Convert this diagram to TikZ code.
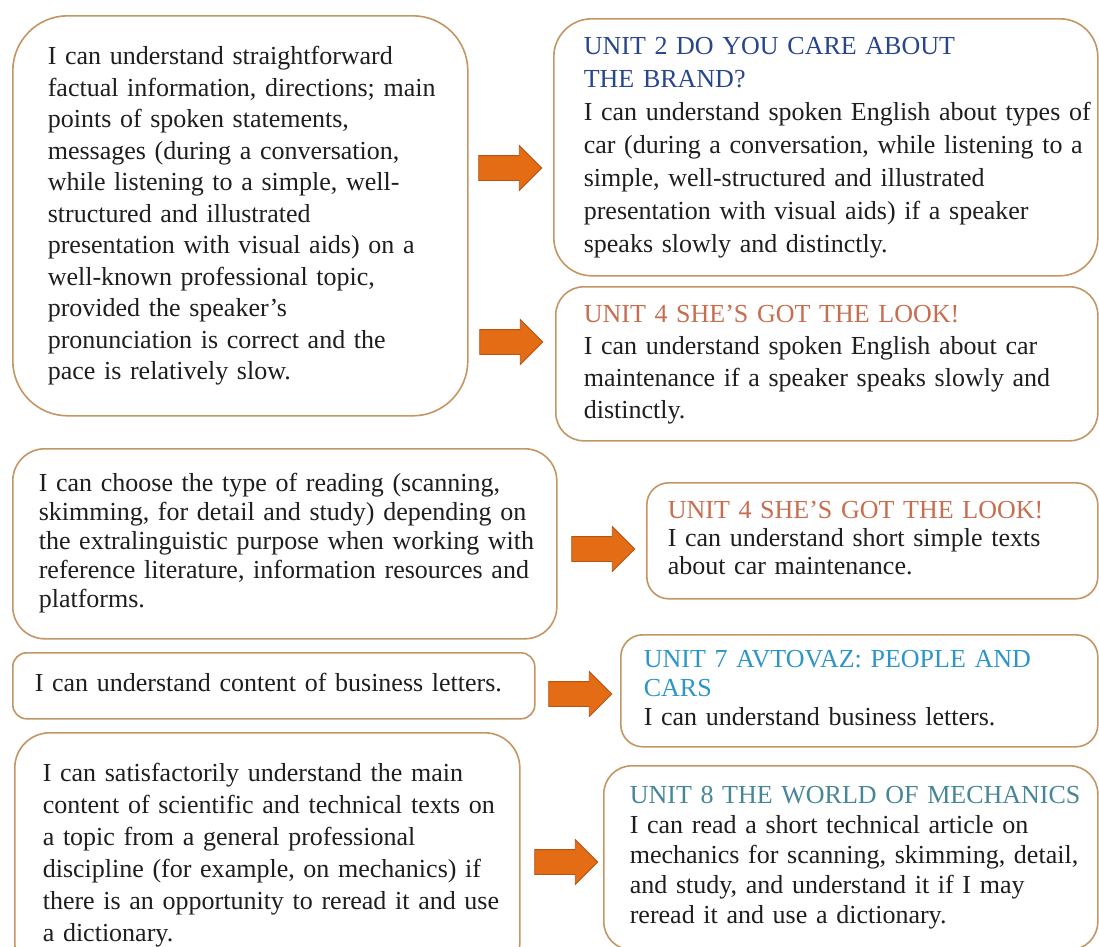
\documentclass[tikz,border=0pt]{standalone}
\usepackage{fontspec}
\setmainfont{Liberation Serif}
\usetikzlibrary{shapes.arrows}

\definecolor{boxline}{RGB}{196,150,100}
\definecolor{arrowfill}{RGB}{227,108,20}
\definecolor{arrowline}{RGB}{180,85,20}
\definecolor{bodytext}{RGB}{30,30,30}
\definecolor{unitblue}{RGB}{40,70,140}
\definecolor{unitorange}{RGB}{200,110,80}
\definecolor{unitsky}{RGB}{45,150,200}
\definecolor{unitteal}{RGB}{70,135,150}

% lines of a box, kept as typed (no wrapping)
\newcommand{\boxlines}[1]{\begin{tabular}{@{}l@{}}#1\end{tabular}}

\begin{document}
\begin{tikzpicture}[x=1pt,y=-1pt,
 goalbox/.style={draw=boxline,line width=1.6pt,anchor=north west,align=left,
   inner ysep=0pt,text=bodytext,font=\fontsize{26pt}{#1pt}\selectfont},
 blockarrow/.style={single arrow,draw=arrowline,fill=arrowfill,line width=0.8pt,
   inner xsep=0pt,inner ysep=12pt,minimum height=63pt,minimum width=44pt,single arrow head extend=10pt}]
 \useasboundingbox[fill=white](0,0) rectangle (1099,946);
 % listening
 \node[goalbox=31.5,rounded corners=55pt,inner xsep=35pt,text width=385pt,minimum height=400pt]
   (goalListen) at (12,15) {\boxlines{I can understand straightforward\\ factual information, directions; main\\
   points of spoken statements,\\ messages (during a conversation,\\ while listening to a simple, well-\\
   structured and illustrated\\ presentation with visual aids) on a\\ well-known professional topic,\\
   provided the speaker's\\ pronunciation is correct and the\\ pace is relatively slow.}};
 \node[goalbox=33,rounded corners=38pt,inner xsep=30pt,text width=484pt,minimum height=257pt]
   (unitBrand) at (553,18) {\boxlines{\textcolor{unitblue}{UNIT 2 DO YOU CARE ABOUT}\\ \textcolor{unitblue}{THE BRAND?}\\
   I can understand spoken English about types of\\ car (during a conversation, while listening to a\\
   simple, well-structured and illustrated\\ presentation with visual aids) if a speaker\\
   speaks slowly and distinctly.}};
 \node[goalbox=32,rounded corners=28pt,inner xsep=28pt,text width=486pt,minimum height=154pt]
   (unitLook) at (555,286) {\boxlines{\textcolor{unitorange}{UNIT 4 SHE'S GOT THE LOOK!}\\
   I can understand spoken English about car\\ maintenance if a speaker speaks slowly and\\ distinctly.}};
 % reading
 \node[goalbox=29,rounded corners=32pt,inner xsep=26pt,text width=492pt,minimum height=190pt]
   (goalRead) at (12,448) {\boxlines{I can choose the type of reading (scanning,\\ skimming, for detail and study) depending on\\
   the extralinguistic purpose when working with\\ reference literature, information resources and\\ platforms.}};
 \node[goalbox=28,rounded corners=22pt,inner xsep=21pt,text width=409pt,minimum height=116pt]
   (unitLookRead) at (646,482) {\boxlines{\textcolor{unitorange}{UNIT 4 SHE'S GOT THE LOOK!}\\
   I can understand short simple texts\\ about car maintenance.}};
 \node[goalbox=29,rounded corners=14pt,inner xsep=22pt,text width=478pt,minimum height=66pt]
   (goalLetters) at (12,652) {\boxlines{I can understand content of business letters.}};
 \node[goalbox=29,rounded corners=22pt,inner xsep=23pt,text width=431pt,minimum height=112pt]
   (unitAvtovaz) at (620,634) {\boxlines{\textcolor{unitsky}{UNIT 7 AVTOVAZ: PEOPLE AND}\\ \textcolor{unitsky}{CARS}\\
   I can understand business letters.}};
 \node[goalbox=32,rounded corners=35pt,inner xsep=28pt,text width=449pt,minimum height=245pt]
   (goalTech) at (14,732) {\boxlines{I can satisfactorily understand the main\\ content of scientific and technical texts on\\
   a topic from a general professional\\ discipline (for example, on mechanics) if\\
   there is an opportunity to reread it and use\\ a dictionary.}};
 \node[goalbox=30,rounded corners=28pt,inner xsep=26pt,text width=442pt,minimum height=184pt]
   (unitMech) at (603,765) {\boxlines{\textcolor{unitteal}{UNIT 8 THE WORLD OF MECHANICS}\\
   I can read a short technical article on\\ mechanics for scanning, skimming, detail,\\
   and study, and understand it if I may\\ reread it and use a dictionary.}};
 % arrows
 \node[blockarrow] (arrBrand) at (504,168) {};
 \node[blockarrow] (arrLook) at (505,342) {};
 \node[blockarrow] (arrLookRead) at (597,549) {};
 \node[blockarrow] (arrAvtovaz) at (574,694) {};
 \node[blockarrow] (arrMech) at (560,862) {};
\end{tikzpicture}
\end{document}
